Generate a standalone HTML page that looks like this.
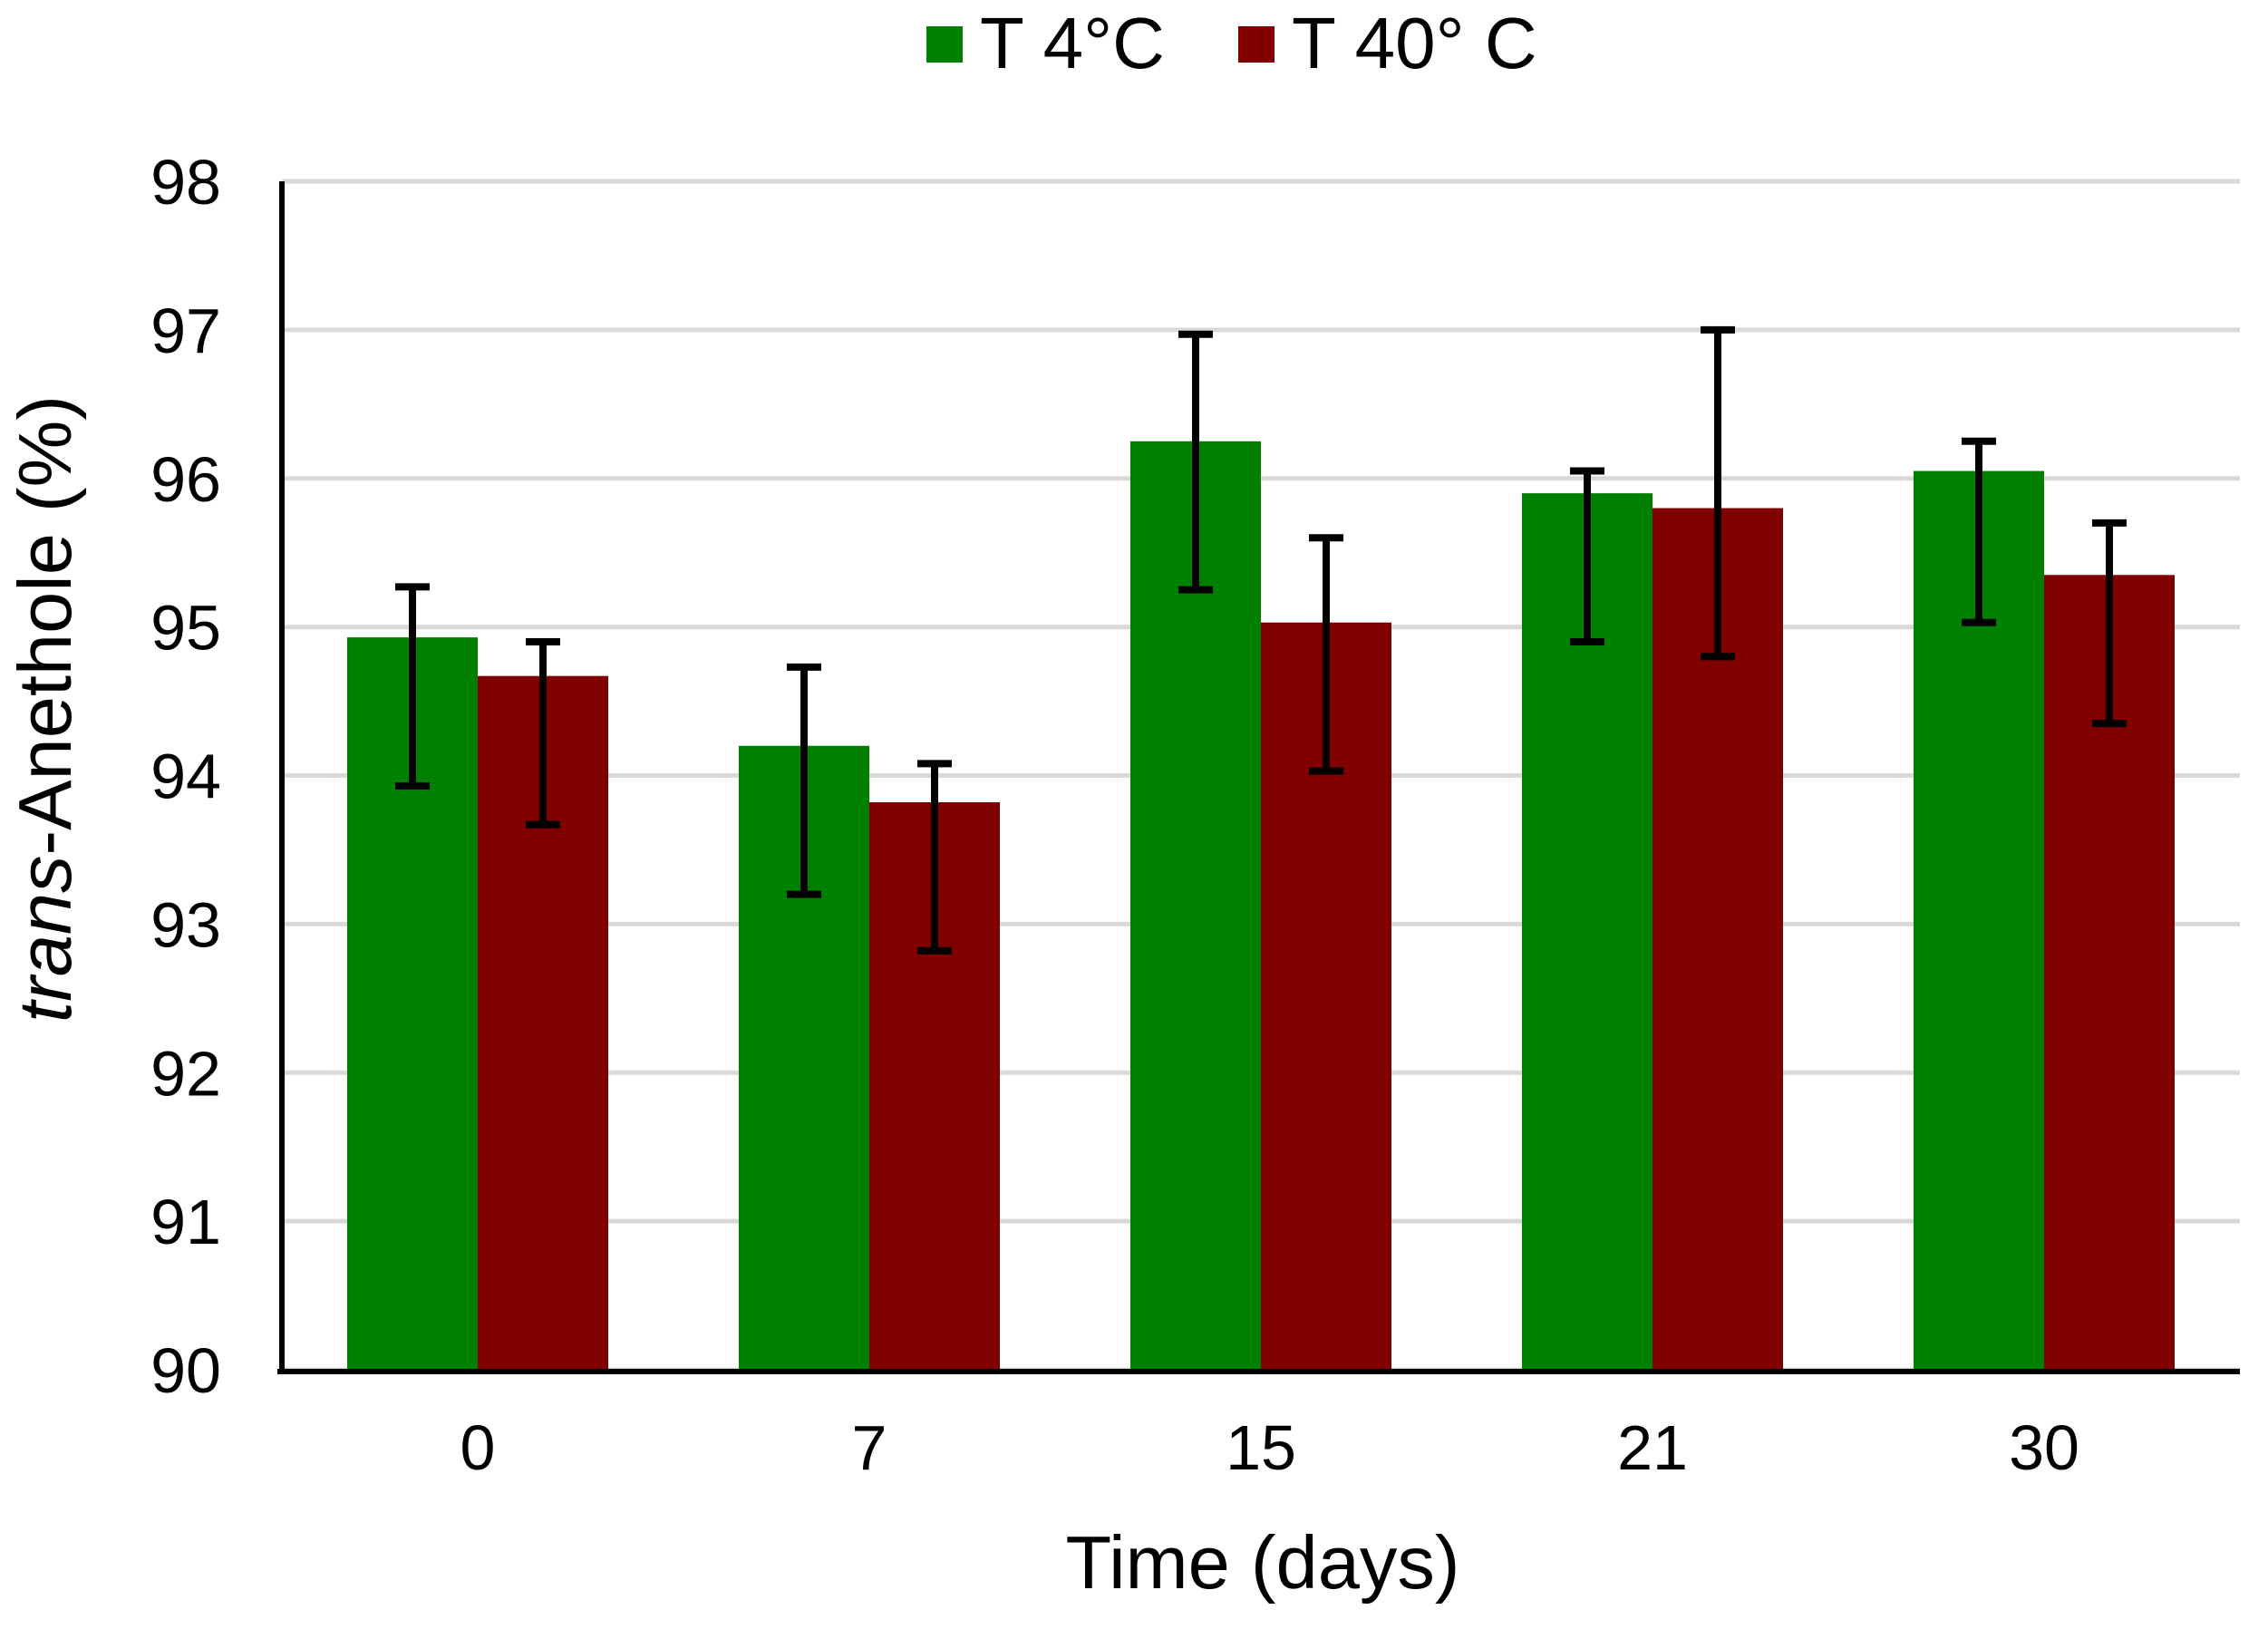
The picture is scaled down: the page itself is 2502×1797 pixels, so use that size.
<!DOCTYPE html>
<html><head><meta charset="utf-8"><style>
html,body{margin:0;padding:0;background:#fff;}
svg{display:block;font-family:"Liberation Sans",Arial,sans-serif;}
</style></head><body>
<svg id="chart" width="2502" height="1797" viewBox="0 0 2502 1797" xmlns="http://www.w3.org/2000/svg">
<g id="grid"></g>
<g id="bars"></g>
<g id="errs"></g>
<g id="axes"></g>
<g id="ylabels"></g>
<g id="xlabels"></g>
<text x="1393" y="1752" font-size="83" text-anchor="middle">Time (days)</text>
<text transform="translate(78,782) rotate(-90)" font-size="83" text-anchor="middle"><tspan font-style="italic">trans</tspan>-Anethole (%)</text>
<g>
<rect x="1022" y="29" width="40" height="40" fill="#008000"/>
<text x="1081" y="75" font-size="80">T 4°C</text>
<rect x="1366" y="29" width="40" height="40" fill="#800000"/>
<text x="1425" y="75" font-size="80">T 40° C</text>
</g>
</svg>
<script>
const categories = ["0","7","15","21","30"];
const green = [94.93, 94.2, 96.25, 95.9, 96.05];
const red = [94.67, 93.82, 95.03, 95.8, 95.35];
const greenHi = [95.27, 94.73, 96.97, 96.05, 96.25];
const greenLo = [93.93, 93.2, 95.25, 94.9, 95.03];
const redHi = [94.9, 94.08, 95.6, 97.0, 95.7];
const redLo = [93.67, 92.82, 94.03, 94.8, 94.35];
const yTicks = [90,91,92,93,94,95,96,97,98];

const NS="http://www.w3.org/2000/svg";
const X0=311, X1=2471, Y0=1511, Y1=200, YMIN=90, YMAX=98;
const y = v => Y0 - (v-YMIN)/(YMAX-YMIN)*(Y0-Y1);
const band = (X1-X0)/categories.length;
const cx = i => X0 + band*(i+0.5);
const BW = 144;
function mk(tag, attrs, parent){const e=document.createElementNS(NS,tag);for(const k in attrs)e.setAttribute(k,attrs[k]);document.getElementById(parent).appendChild(e);return e;}

yTicks.forEach(t=>{
  const l=mk('line',{x1:X0,x2:X1,y1:y(t),y2:y(t),stroke:'#d9d9d9','stroke-width':5},'grid');
  
  
  const tx=mk('text',{x:244,y:y(t)+25,'font-size':70,'text-anchor':'end'},'ylabels');
  tx.textContent=t;
  
  
});

categories.forEach((c,i)=>{
  const series=[[green,greenHi,greenLo,'#008000',-1,'green'],[red,redHi,redLo,'#800000',0,'red']];
  series.forEach(([vals,hi,lo,col,off,nm])=>{
    const bx=cx(i)+off*BW;
    const r=mk('rect',{x:bx,y:y(vals[i]),width:BW,height:Y0-y(vals[i]),fill:col},'bars');
    
    
    const ex=bx+BW/2;
    const p=mk('path',{d:`M${ex},${y(hi[i])}V${y(lo[i])}M${ex-19},${y(hi[i])}H${ex+19}M${ex-19},${y(lo[i])}H${ex+19}`,stroke:'#000','stroke-width':8,fill:'none'},'errs');
    
    
  });
  const t=mk('text',{x:cx(i),y:1621,'font-size':70,'text-anchor':'middle'},'xlabels');
  t.textContent=c;
  
  
});

const ya=mk('line',{x1:X0,x2:X0,y1:Y1,y2:Y0+3,stroke:'#000','stroke-width':6},'axes');


const xa=mk('line',{x1:X0-5,x2:X1,y1:Y0+2,y2:Y0+2,stroke:'#000','stroke-width':6},'axes');


</script>
</body></html>
